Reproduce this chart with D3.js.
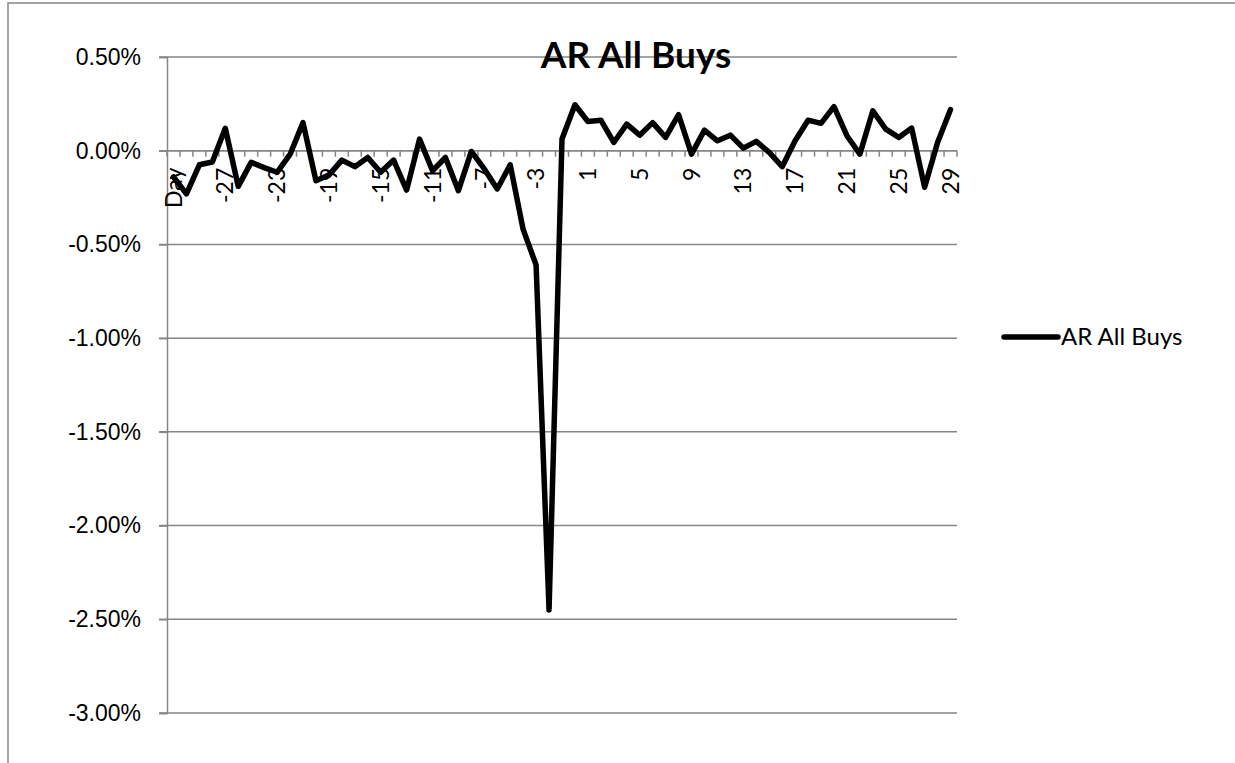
<!DOCTYPE html>
<html>
<head>
<meta charset="utf-8">
<script src="https://cdn.jsdelivr.net/npm/d3@7"></script>
<style>
  body { margin: 0; background: #fff; }
  svg { display: block; font-family: Lato, "Open Sans", sans-serif; }
</style>
</head>
<body>
<svg id="chart" width="1235" height="763"></svg>
<script>
// --- DATA ---
const seriesName = "AR All Buys";
const days = ["Day"].concat(d3.range(-30, 30).map(String));
const arAllBuys = [
  -0.14, -0.23, -0.075, -0.06, 0.12, -0.19, -0.062, -0.09, -0.115, -0.02,
  0.15, -0.16, -0.13, -0.05, -0.085, -0.036, -0.115, -0.05, -0.21, 0.062,
  -0.107, -0.036, -0.213, -0.004, -0.097, -0.204, -0.075, -0.42, -0.61, -2.45,
  0.062, 0.245, 0.156, 0.163, 0.044, 0.142, 0.083, 0.15, 0.071, 0.192,
  -0.018, 0.11, 0.053, 0.083, 0.014, 0.05, -0.009, -0.085, 0.053, 0.163,
  0.146, 0.235, 0.08, -0.018, 0.213, 0.115, 0.071, 0.121, -0.195, 0.044, 0.22
];
const yTicks = [0.5, 0, -0.5, -1, -1.5, -2, -2.5, -3];

// --- SETUP ---
const svg = d3.select("#chart");
const plot = { left: 167, right: 957, top: 57, bottom: 713 };
const axisColor = "#868686";

// outer chart border (runs off the page right and bottom)
svg.append("rect")
  .attr("x", 8).attr("y", 3).attr("width", 1400).attr("height", 900)
  .attr("fill", "none").attr("stroke", axisColor).attr("stroke-width", 1.5);

const x = d3.scaleBand().domain(days).range([plot.left, plot.right]);
const y = d3.scaleLinear().domain([-3, 0.5]).range([plot.bottom, plot.top]);

// gridlines
svg.append("g").selectAll("line").data(yTicks).join("line")
  .attr("x1", plot.left - 8).attr("x2", plot.right)
  .attr("y1", d => y(d)).attr("y2", d => y(d))
  .attr("stroke", axisColor).attr("stroke-width", 1.5);

// y axis (plain hyphen for negatives, like Excel)
const pct = d => d.toFixed(2) + "%";
const yAxis = svg.append("g")
  .attr("transform", `translate(${plot.left},0)`)
  .call(d3.axisLeft(y).tickValues(yTicks).tickSize(8).tickPadding(18).tickFormat(pct));
yAxis.select(".domain").attr("stroke", axisColor).attr("stroke-width", 1.5);
yAxis.selectAll(".tick line").attr("stroke", axisColor).attr("stroke-width", 1.5);
yAxis.selectAll("text").attr("font-size", 23).attr("fill", "#000");

// x axis at 0%
const boundaries = d3.range(days.length + 1).map(i => plot.left + i * x.step());
svg.append("g").selectAll("line").data(boundaries).join("line")
  .attr("x1", d => d).attr("x2", d => d)
  .attr("y1", y(0)).attr("y2", y(0) + 6)
  .attr("stroke", axisColor).attr("stroke-width", 1.5);
svg.append("line")
  .attr("x1", plot.left).attr("x2", plot.right)
  .attr("y1", y(0)).attr("y2", y(0))
  .attr("stroke", axisColor).attr("stroke-width", 1.5);

const labelDays = days.filter((d, i) => i % 4 === 0);
svg.append("g").selectAll("text").data(labelDays).join("text")
  .attr("transform", d => `translate(${x(d) + x.bandwidth() / 2},${y(0) + 17}) rotate(-90)`)
  .attr("text-anchor", "end")
  .attr("dy", "0.35em")
  .attr("font-size", 23)
  .text(d => d);

// --- LINE ---
const line = d3.line()
  .x((d, i) => x(days[i]) + x.bandwidth() / 2)
  .y(d => y(d));

svg.append("path")
  .datum(arAllBuys)
  .attr("d", line)
  .attr("fill", "none")
  .attr("stroke", "#000")
  .attr("stroke-width", 5.5)
  .attr("stroke-linejoin", "round")
  .attr("stroke-linecap", "round");

// --- TITLE ---
svg.append("text")
  .attr("x", 636).attr("y", 68)
  .attr("text-anchor", "middle")
  .attr("font-size", 37)
  .attr("font-weight", "bold")
  .text(seriesName);

// --- LEGEND ---
const legend = svg.append("g").attr("transform", "translate(1004,337)");
legend.append("line")
  .attr("x1", 0).attr("x2", 54)
  .attr("stroke", "#000").attr("stroke-width", 5.5).attr("stroke-linecap", "round");
legend.append("text")
  .attr("x", 57).attr("dy", "0.35em")
  .attr("font-size", 24)
  .text(seriesName);
</script>
</body>
</html>
